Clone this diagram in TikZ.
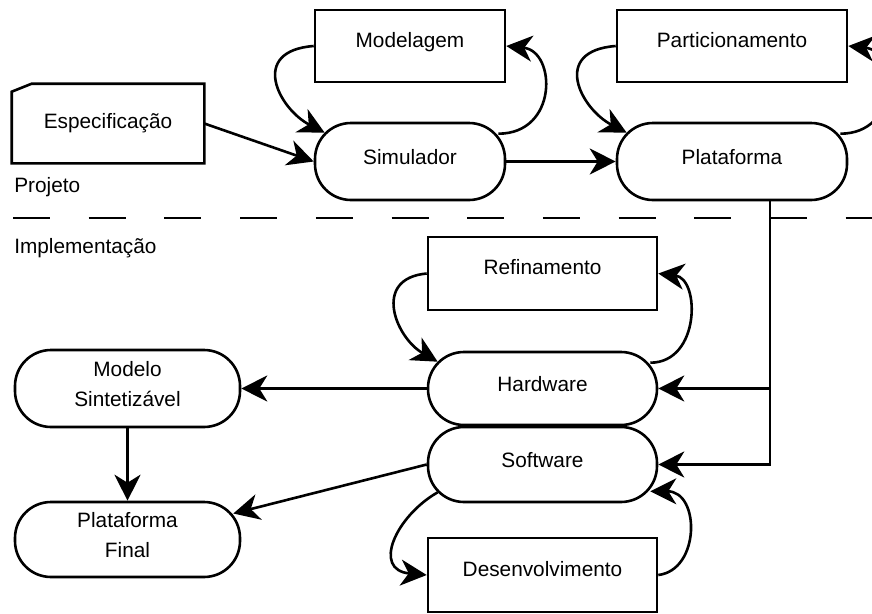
\documentclass[tikz,border=0pt]{standalone}
\usepackage{fontspec}
\setmainfont{Liberation Sans}
\usetikzlibrary{arrows.meta,calc}

\begin{document}
\begin{tikzpicture}[x=1pt,y=-1pt,
  font=\fontsize{20.8}{30}\selectfont,
  line width=2.6pt,
  base/.style={rectangle, inner sep=0pt, text height=15.2pt},
  box/.style={base, draw, text depth=13pt},
  pill/.style={base, draw, rounded corners=36pt, text depth=10pt},
  twoline/.style={align=center, text height=45.2pt, text depth=9pt},
  arr/.style={-{Stealth[length=26pt,width=26pt,inset=8pt]}},
  section/.style={anchor=base west, inner sep=0pt},
]
\useasboundingbox (0,0) rectangle (872,613);

% ---- design phase ----
\node[base, minimum width=190pt, minimum height=77pt, text depth=5pt] (spec) at (108,123.5) {Especificação};
\draw ([yshift=-8pt]spec.north west) -- ([xshift=20pt]spec.north west) -- (spec.north east)
  -- (spec.south east) -- (spec.south west) -- cycle;

\node[box,  minimum width=190pt, minimum height=72pt] (mod)  at (410,46)    {Modelagem};
\node[pill, minimum width=190pt, minimum height=77pt] (sim)  at (410,161.5) {Simulador};
\node[box,  minimum width=230pt, minimum height=72pt] (part) at (732,46)    {Particionamento};
\node[pill, minimum width=230pt, minimum height=77pt] (plat) at (732,161.5) {Plataforma};

\node[section] (proj) at (13,192) {Projeto};
\node[section] (impl) at (13,253) {Implementação};
\draw[dash pattern=on 37pt off 38.7pt] (13,218) -- (872,218);

% ---- implementation phase ----
\node[box,  minimum width=229pt, minimum height=73pt] (ref) at (542.5,273.5) {Refinamento};
\node[pill, minimum width=229pt, minimum height=73pt] (hw)  at (542.5,388.5) {Hardware};
\node[pill, minimum width=229pt, minimum height=75pt] (sw)  at (542.5,464.5) {Software};
\node[box,  minimum width=229pt, minimum height=74pt] (dev) at (542.5,575)   {Desenvolvimento};

\node[pill, twoline, minimum width=225pt, minimum height=77pt] (ms) at (127.5,388.5) {Modelo\\Sintetizável};
\node[pill, twoline, minimum width=225pt, minimum height=75pt] (pf) at (127.5,539.5) {Plataforma\\Final};

% ---- straight connectors ----
\draw[arr] (spec.east) -- (sim.west);
\draw[arr] (sim.east) -- (plat.west);
\coordinate (drop) at ([xshift=38pt]plat.south);
\draw[arr] (drop) |- (hw.east);
\draw[arr] (drop) |- (sw.east);
\draw[arr] (hw.west) -- (ms.east);
\draw[arr] (ms.south) -- (pf.north);
\draw[arr] (sw.west) -- ([shift={(-8,-26)}]pf.east);

% ---- iteration loops ----
\draw[arr] (mod.west) .. controls +(-65,5) and +(-46,-24) .. ([shift={(11,11)}]sim.north west);
\draw[arr] ([shift={(-8,12)}]sim.north east) .. controls +(60,0) and +(50,5) .. (mod.east);

\draw[arr] (part.west) .. controls +(-65,5) and +(-46,-24) .. ([shift={(11,11)}]plat.north west);
\draw[arr] ([shift={(-8,12)}]plat.north east) .. controls +(60,0) and +(50,5) .. (part.east);

\draw[arr] (ref.west) .. controls +(-55,5) and +(-42,-24) .. ([shift={(11,11)}]hw.north west);
\draw[arr] ([shift={(-8,12)}]hw.north east) .. controls +(50,0) and +(42,5) .. (ref.east);

\draw[arr] ([shift={(11,-11)}]sw.south west) .. controls +(-42,24) and +(-55,-5) .. (dev.west);
\draw[arr] (dev.east) .. controls +(42,-5) and +(50,0) .. ([shift={(-8,-12)}]sw.south east);
\end{tikzpicture}
\end{document}
